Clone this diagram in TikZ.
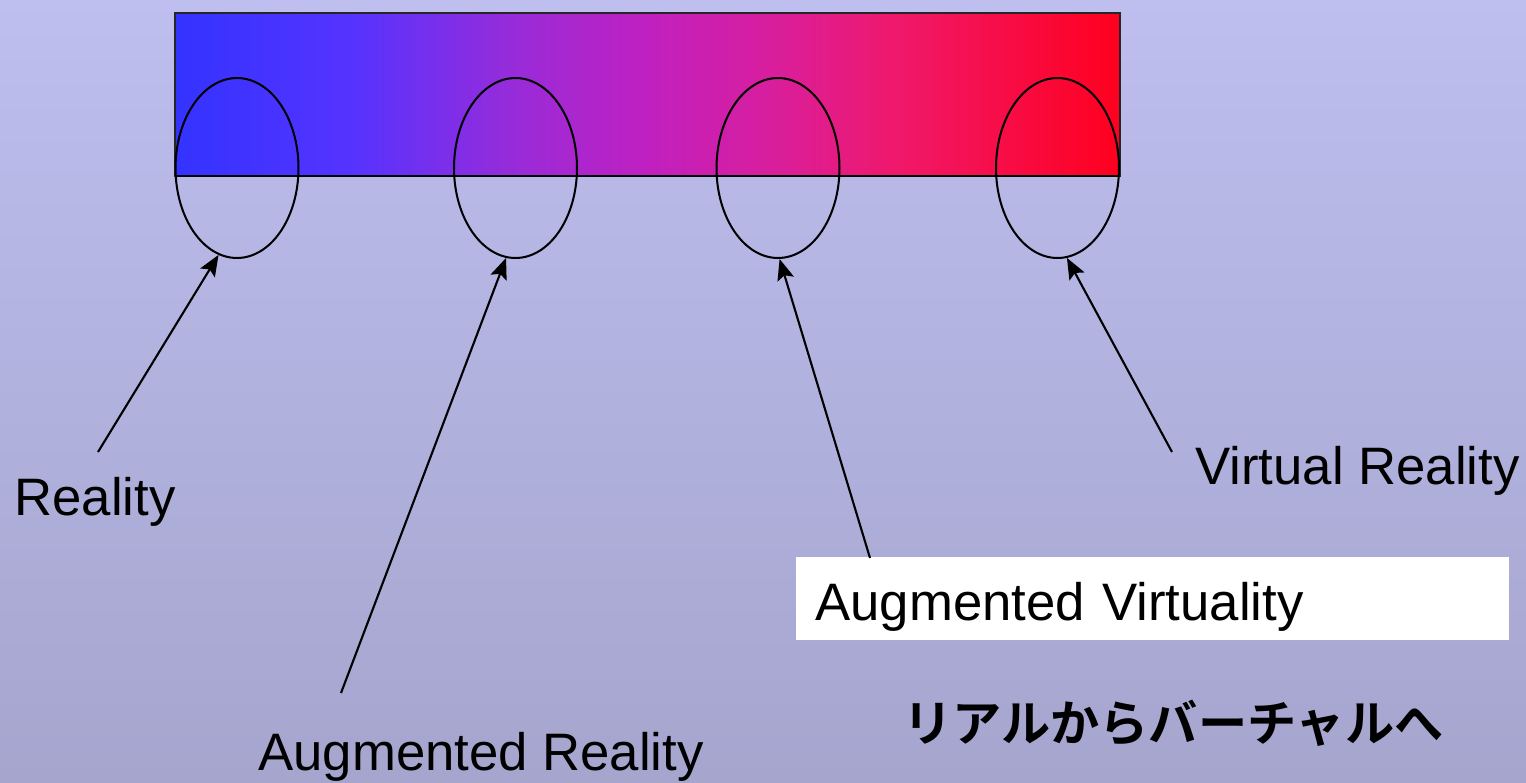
\documentclass[tikz,border=0pt]{standalone}
\usepackage{fontspec}
\setmainfont{Liberation Sans}
\newfontfamily\jpfont{Noto Sans CJK JP Bold}
\usetikzlibrary{positioning, arrows.meta, shapes.geometric}
\definecolor{bgtop}{HTML}{BEBEEF}
\definecolor{bgbottom}{HTML}{A5A5CE}
% the path is mapped onto 25bp--75bp of the shading
\pgfdeclarehorizontalshading{continuum}{100bp}{%
    color(0bp)=(rgb,255:red,51;green,51;blue,255);
    color(25bp)=(rgb,255:red,51;green,51;blue,255);
    color(34.25bp)=(rgb,255:red,85;green,51;blue,255);
    color(43.25bp)=(rgb,255:red,154;green,43;blue,216);
    color(50bp)=(rgb,255:red,192;green,32;blue,192);
    color(57bp)=(rgb,255:red,218;green,30;blue,154);
    color(63.35bp)=(rgb,255:red,240;green,24;blue,106);
    color(75bp)=(rgb,255:red,255;green,0;blue,30);
    color(100bp)=(rgb,255:red,255;green,0;blue,30)}

\begin{document}
\begin{tikzpicture}[
    x=0.02cm, y=-0.02cm,
    >={Stealth[length=0.42cm, width=0.34cm, inset=0.08cm]},
    font=\fontsize{30}{34}\selectfont,
    blob/.style={
        ellipse, draw=black, line width=1.15pt,
        minimum width=2.46cm, minimum height=3.6cm,
        inner sep=0pt,
    },
    pointer/.style={
        ->, draw=black, line width=1.2pt,
    },
    caption/.style={
        anchor=base west, inner sep=0pt,
    },
    avbox/.style={
        fill=white, anchor=north west, align=left,
        minimum width=14.26cm, minimum height=1.66cm,
        text width=13.5cm, text height=0.9cm, text depth=0.04cm,
        inner xsep=0.38cm, inner ysep=0pt,
    },
]

% Background
\fill[top color=bgtop, bottom color=bgbottom] (0,0) rectangle (1526,782);
\useasboundingbox (0,0) rectangle (1526,782);

% Continuum bar
\shade[shading=continuum] (175,13) rectangle (1120,176);
\draw[line width=1.1pt, black!85] (175,13) rectangle (1120,176);

% Ellipses on the bar
\node[blob] (real) at (237,168) {};
\node[blob] (ar) at (515.5,168) {};
\node[blob] (av) at (778,168) {};
\node[blob] (vr) at (1057.5,168) {};
\draw[line width=1.1pt] (175,176) -- (1120,176);

% Labels
\node[caption] (reallabel) at (14,515) {Reality};
\node[caption] (arlabel) at (258,770) {Augmented Reality};
\node[avbox] (avlabel) at (796,557) {Augmented Virtuality};
\node[caption] (vrlabel) at (1195,484) {Virtual Reality};
\node[caption, font=\jpfont\fontsize{28}{32}\selectfont] (jplabel)
    at (903,741) {リアルからバーチャルへ};

% Arrow tails
\coordinate (realtail) at (98,452);
\coordinate (artail) at (341,693);
\coordinate (avtail) at (870,558);
\coordinate (vrtail) at (1172,452);

% Arrows
\draw[pointer] (realtail) -- (real.-102);
\draw[pointer] (artail) -- (ar.-96);
\draw[pointer] (avtail) -- (av.-89);
\draw[pointer] (vrtail) -- (vr.-84);

\end{tikzpicture}
\end{document}
